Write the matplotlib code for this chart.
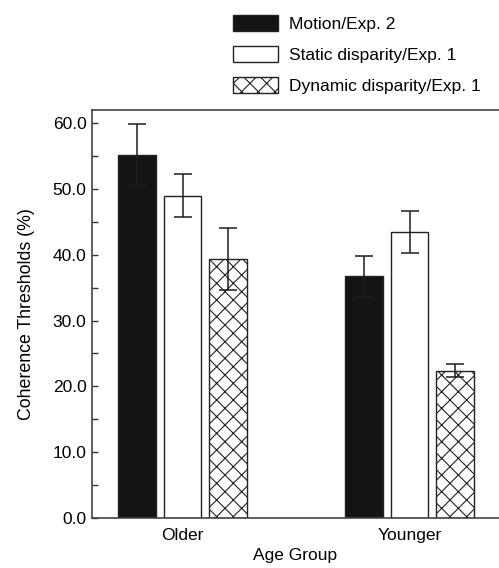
import matplotlib
matplotlib.use("Agg")
import matplotlib.pyplot as plt
import numpy as np

plt.rcParams['font.family'] = ['Liberation Sans', 'DejaVu Sans']
plt.rcParams['hatch.linewidth'] = 0.8

groups = ["Older", "Younger"]
series = ["Motion/Exp. 2", "Static disparity/Exp. 1", "Dynamic disparity/Exp. 1"]
means = {
    "Motion/Exp. 2": [55.1, 36.7],
    "Static disparity/Exp. 1": [49.0, 43.5],
    "Dynamic disparity/Exp. 1": [39.3, 22.4],
}
errors = {
    "Motion/Exp. 2": [4.7, 3.1],
    "Static disparity/Exp. 1": [3.2, 3.2],
    "Dynamic disparity/Exp. 1": [4.7, 1.0],
}
facecolors = ["#141414", "white", "white"]
hatches = [None, None, "xx"]

fig = plt.figure(figsize=(4.99, 5.68), dpi=100)
ax = fig.add_axes([92/499, 50/568, 1 - 92/499, 408/568])

x = np.arange(len(groups))
width = 0.165
step = 0.2
edge = "#222222"
handles = []
for i, s in enumerate(series):
    pos = x + (i - 1) * step
    b = ax.bar(pos, means[s], width, color=facecolors[i], edgecolor=edge,
               linewidth=1.0, hatch=hatches[i], label=s, zorder=2)
    ax.errorbar(pos, means[s], yerr=errors[s], fmt='none', ecolor="#1c1c1c",
                elinewidth=1.1, capsize=6.5, capthick=1.1, zorder=3)
    handles.append(b)

ax.set_xlim(-0.399, 1.394)
ax.set_ylim(0, 62)
ax.set_xticks(x)
ax.set_xticklabels(groups, fontsize=12.5)
ax.tick_params(axis='x', length=0, pad=7)
ax.set_yticks(np.arange(0, 61, 10))
ax.set_yticks(np.arange(0, 61, 5), minor=True)
ax.set_yticklabels([f"{v:.1f}" for v in np.arange(0, 61, 10)], fontsize=12.5)
ax.tick_params(axis='y', which='both', direction='in', length=4, width=1.0,
               color="#333333", pad=4)
for sp in ["left", "bottom", "top"]:
    ax.spines[sp].set_color("#444444")
    ax.spines[sp].set_linewidth(1.2)
ax.spines["right"].set_visible(False)

ax.set_xlabel("Age Group", fontsize=12.5, labelpad=4)
ax.set_ylabel("Coherence Thresholds (%)", fontsize=12.8, labelpad=13)

fig.legend(handles=handles, labels=series, loc='upper left',
           bbox_to_anchor=(233/499, 1 - 15/568), frameon=False, fontsize=12.5,
           handlelength=2.6, handleheight=1.04, handletextpad=0.6,
           labelspacing=0.8, borderpad=0, borderaxespad=0)

fig.savefig("out.png", dpi=100)
